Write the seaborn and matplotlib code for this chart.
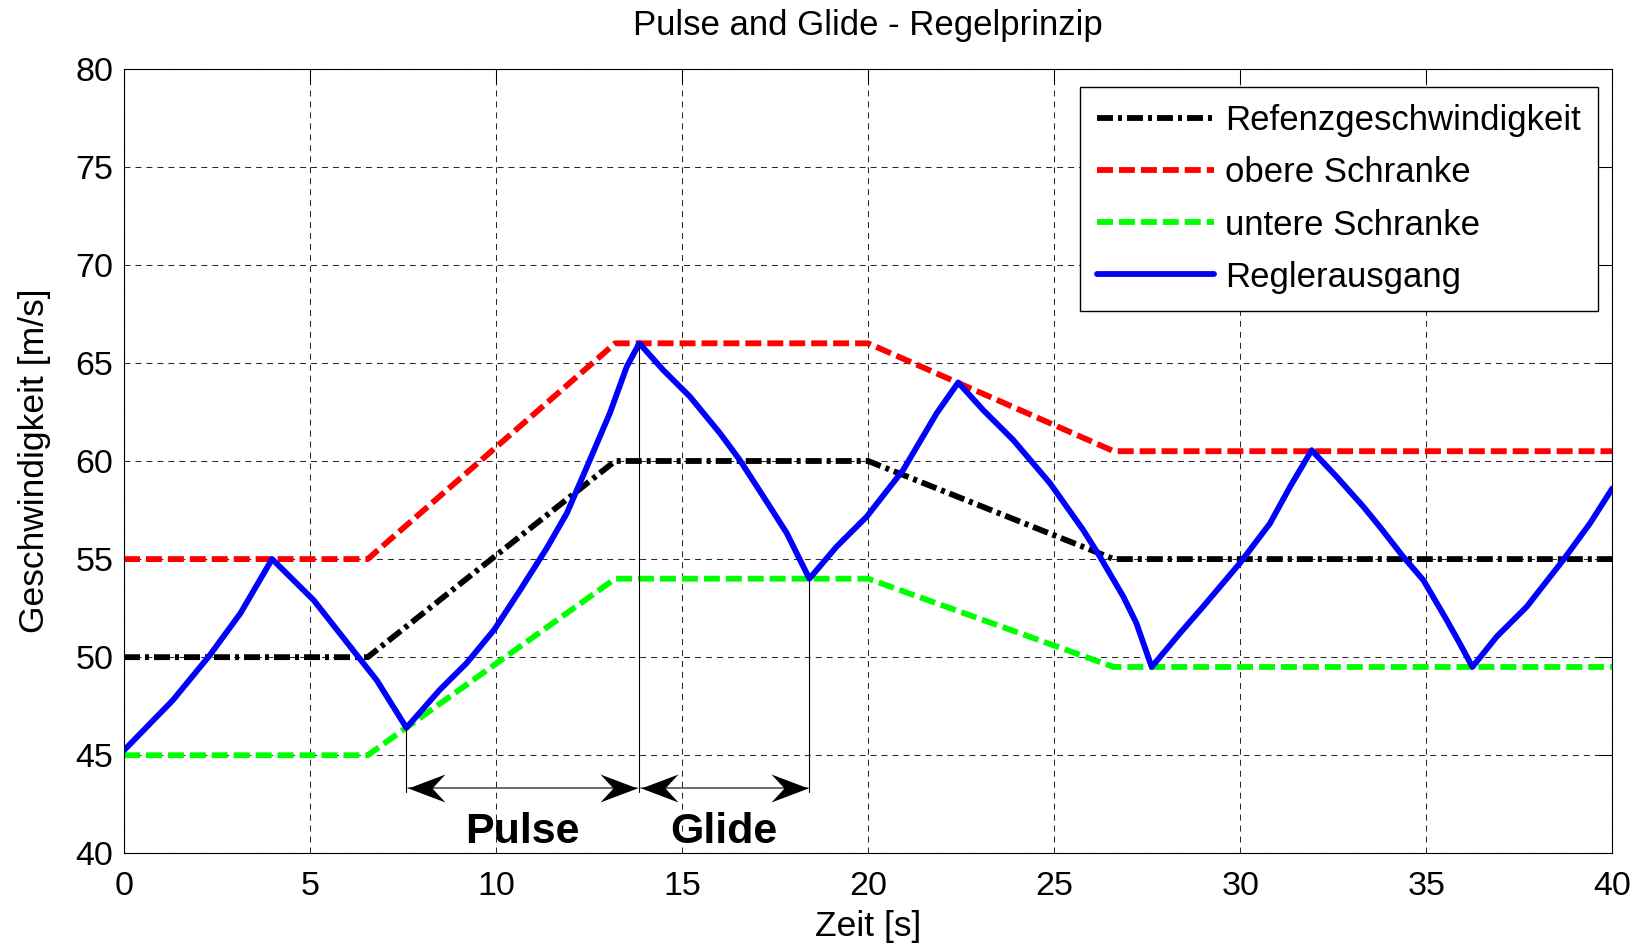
import numpy as np
import matplotlib
matplotlib.use("Agg")
import matplotlib.pyplot as plt
import seaborn as sns
from matplotlib.path import Path

# ---------------------------------------------------------------------------
# Data
# ---------------------------------------------------------------------------
# Reference speed profile (breakpoints) and the +/-10 % band around it
ref_t = [0.0, 6.55, 13.2, 20.0, 26.6, 40.0]
ref_v = [50.0, 50.0, 60.0, 60.0, 55.0, 55.0]
upper_v = [55.0, 55.0, 66.0, 66.0, 60.5, 60.5]
lower_v = [45.0, 45.0, 54.0, 54.0, 49.5, 49.5]

# Controller output (pulse and glide oscillation between the bounds)
ctrl_t = [0.0, 1.31, 2.29, 3.13, 3.98, 5.1, 6.22, 6.79, 7.59, 8.49, 9.21,
          9.95, 10.64, 11.36, 11.9, 12.52, 13.06, 13.51, 13.85, 14.49, 15.21,
          16.02, 16.55, 17.18, 17.81, 18.42, 19.15, 19.96, 20.94, 21.84,
          22.42, 23.09, 23.9, 24.89, 25.78, 26.23, 26.86, 27.21, 27.62,
          28.38, 29.0, 29.99, 30.8, 31.34, 31.92, 32.59, 33.31, 33.75, 34.38,
          34.92, 35.55, 35.9, 36.24, 36.89, 37.7, 38.68, 39.4, 40.0]
ctrl_v = [45.25, 47.8, 50.06, 52.24, 55.0, 52.9, 50.2, 48.83, 46.4, 48.34,
          49.7, 51.4, 53.4, 55.55, 57.33, 60.05, 62.45, 64.8, 66.0, 64.64,
          63.28, 61.41, 60.05, 58.2, 56.33, 54.0, 55.63, 57.16, 59.54, 62.43,
          64.0, 62.6, 61.07, 58.86, 56.48, 55.12, 53.08, 51.73, 49.5, 51.22,
          52.57, 54.79, 56.82, 58.69, 60.55, 59.2, 57.67, 56.65, 55.12, 53.93,
          51.89, 50.7, 49.5, 51.04, 52.57, 54.95, 56.82, 58.6]

# Phase boundaries of the first pulse/glide cycle
phase_t = [7.59, 13.85, 18.42]
phase_labels = ["Pulse", "Glide"]

series_labels = ["Refenzgeschwindigkeit", "obere Schranke",
                 "untere Schranke", "Reglerausgang"]
x_ticks = list(range(0, 41, 5))
y_ticks = list(range(40, 81, 5))

# ---------------------------------------------------------------------------
# Style
# ---------------------------------------------------------------------------
sns.set_style("white")
plt.rcParams["font.family"] = ["Liberation Sans", "DejaVu Sans"]
plt.rcParams["lines.scale_dashes"] = False
plt.rcParams["text.color"] = "black"
plt.rcParams["axes.labelcolor"] = "black"
plt.rcParams["axes.titlecolor"] = "black"

fig = plt.figure(figsize=(16.39, 9.5), dpi=100)
ax = fig.add_axes([0.07566, 0.10179, 0.98371 - 0.07566, 0.92768 - 0.10179])

lw = 4.2
dashdot = (0, (11.5, 3.6, 2.9, 3.6))
dashed = (0, (11.5, 4.3))

sns.lineplot(x=ref_t, y=ref_v, ax=ax, color="black", lw=lw,
             linestyle=dashdot, label=series_labels[0], legend=False)
sns.lineplot(x=ref_t, y=upper_v, ax=ax, color="#ff0000", lw=lw,
             linestyle=dashed, label=series_labels[1], legend=False)
sns.lineplot(x=ref_t, y=lower_v, ax=ax, color="#00ff00", lw=lw,
             linestyle=dashed, label=series_labels[2], legend=False)
sns.lineplot(x=ctrl_t, y=ctrl_v, ax=ax, color="#0000ff", lw=lw,
             label=series_labels[3], legend=False)

# Axes, grid, ticks
ax.set_xlim(0, 40)
ax.set_ylim(40, 80)
ax.set_xticks(x_ticks)
ax.set_yticks(y_ticks)
ax.grid(True, color="#2a2a2a", linestyle=(0, (4.3, 3.6)), linewidth=0.75)
ax.set_axisbelow(True)
for sp in ax.spines.values():
    sp.set_visible(True)
    sp.set_color("black")
    sp.set_linewidth(0.8)
ax.tick_params(direction="in", length=10, width=0.75, top=True, right=True,
               labelsize=24.5, colors="black")
ax.tick_params(axis="y", pad=7.5)
ax.tick_params(axis="x", pad=12.5)

ax.set_title("Pulse and Glide - Regelprinzip", fontsize=25, pad=24,
             color="black")
ax.set_xlabel("Zeit [s]", fontsize=25.5, labelpad=6, color="black")
ax.set_ylabel("Geschwindigkeit [m/s]", fontsize=25.5, labelpad=18,
              color="black")

# Legend
leg = ax.legend(loc="upper right", bbox_to_anchor=(0.9904, 0.9767),
                borderaxespad=0, fontsize=25, handlelength=3.35,
                handletextpad=0.32, labelspacing=0.55, borderpad=0.5,
                frameon=True, fancybox=False, framealpha=1,
                edgecolor="black")
leg.get_frame().set_linewidth(1.0)
for txt in leg.get_texts():
    txt.set_color("black")

# ---------------------------------------------------------------------------
# Pulse / Glide dimension arrows
# ---------------------------------------------------------------------------
head_right = Path([(0, 0), (-37, 14), (-24, 0), (-37, -14), (0, 0)],
                  [Path.MOVETO, Path.LINETO, Path.LINETO, Path.LINETO,
                   Path.CLOSEPOLY])
head_left = Path([(0, 0), (37, 14), (24, 0), (37, -14), (0, 0)],
                 [Path.MOVETO, Path.LINETO, Path.LINETO, Path.LINETO,
                  Path.CLOSEPOLY])

guide_bottom = 43.1
arrow_y = 43.35
label_y = 40.5
gap = 0.05

for tp in phase_t:
    top = np.interp(tp, ctrl_t, ctrl_v)
    ax.plot([tp, tp], [guide_bottom, top], color="black", lw=0.8, zorder=3)

for (a, b), name in zip(zip(phase_t[:-1], phase_t[1:]), phase_labels):
    ax.plot([a + gap, b - gap], [arrow_y, arrow_y], color="#444444", lw=1.1,
            zorder=3)
    ax.plot([a + gap], [arrow_y], marker=head_left, ms=53.3, mew=0,
            mfc="black", ls="none", zorder=4)
    ax.plot([b - gap], [arrow_y], marker=head_right, ms=53.3, mew=0,
            mfc="black", ls="none", zorder=4)
    ax.text((a + b) / 2, label_y, name, ha="center", va="baseline",
            fontsize=31, fontweight="bold", color="black")

fig.savefig("out.png", dpi=100)
